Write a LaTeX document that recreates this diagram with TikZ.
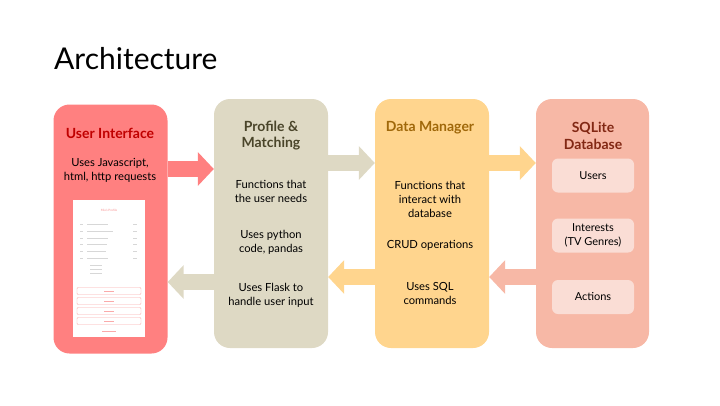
\documentclass[tikz,border=0pt]{standalone}
\usepackage{fontspec}
\setmainfont{Lato}
\usetikzlibrary{arrows.meta}
\definecolor{uicol}{RGB}{255,128,128}
\definecolor{pmcol}{RGB}{222,217,196}
\definecolor{dmcol}{RGB}{255,213,142}
\definecolor{dbcol}{RGB}{247,184,166}
\definecolor{dbin}{RGB}{250,221,213}
\definecolor{uitxt}{RGB}{192,0,0}
\definecolor{pmtxt}{RGB}{74,69,42}
\definecolor{dmtxt}{RGB}{160,104,10}
\definecolor{dbtxt}{RGB}{130,40,20}
\definecolor{shotline}{RGB}{215,215,215}
\definecolor{shotpink}{RGB}{250,170,170}
\tikzset{
  box/.style={rectangle, rounded corners=16pt, minimum width=114pt, minimum height=249pt, inner sep=0pt},
  inbox/.style={rectangle, rounded corners=6pt, fill=dbin, minimum width=82pt, minimum height=34pt, inner sep=0pt, align=center, font=\fontsize{11}{13.5}\selectfont},
  ttl/.style={font=\fontsize{14}{16.5}\bfseries\selectfont, align=center, inner sep=0pt},
  body/.style={font=\fontsize{11.2}{14}\selectfont, align=center, inner sep=0pt},
  arr/.style={line width=16pt, -{Triangle[length=16pt,width=33pt]}},
  row/.style={shotline, line width=0.6pt},
  btn/.style={draw=shotpink, line width=0.4pt, rounded corners=1pt},
}
\begin{document}
\begin{tikzpicture}[x=1pt,y=-1pt]
\useasboundingbox (0,0) rectangle (720,405);
\node[anchor=base west, inner sep=0pt, font=\fontsize{30}{36}\selectfont] (title) at (54,69) {Architecture};

\node[box, fill=uicol] (ui) at (110.5,229) {};
\node[box, fill=pmcol] (pm) at (271,223.5) {};
\node[box, fill=dmcol] (dm) at (432,223.5) {};
\node[box, fill=dbcol, minimum width=113pt] (db) at (592.5,223.5) {};

% arrows
\draw[arr, uicol] (ui.east |- 0,169) -- (pm.west |- 0,169);
\draw[arr, pmcol] (pm.east |- 0,163) -- (dm.west |- 0,163);
\draw[arr, dmcol] (dm.east |- 0,163) -- (db.west |- 0,163);
\draw[arr, dbcol] (db.west |- 0,277) -- (dm.east |- 0,277);
\draw[arr, dmcol] (dm.west |- 0,277) -- (pm.east |- 0,277);
\draw[arr, pmcol] (pm.west |- 0,282) -- (ui.east |- 0,282);

% UI texts
\node[ttl, text=uitxt] (uit) at (110,133) {User Interface};
\node[body] (uib) at (110,170) {Uses Javascript,\\html, http requests};
% screenshot
\node[rectangle, fill=white, minimum width=72pt, minimum height=137pt, inner sep=0pt] (shot) at (109,268.5) {};
\node[inner sep=0pt, text=shotpink, font=\fontsize{3}{3}\bfseries\selectfont] (shott) at (109,210) {Mia's Profile};
\foreach \yy/\ll in {224/38,231/48,238/38,244/36,251/34,258/38}{
  \draw[row] (80,\yy) -- ++(3,0);
  \draw[row] (87,\yy) -- ++(\ll*0.55,0);
  \draw[row] (133,\yy) -- ++(4,0);
}
\foreach \yy in {265,269,273}{ \draw[row] (90,\yy) -- ++(12,0); }
\foreach \yy in {291,301,311,321}{
  \draw[btn] (77,\yy-3.5) rectangle (141,\yy+3.5);
  \draw[shotpink, line width=0.4pt] (104,\yy) -- (114,\yy);
}
\draw[shotpink, line width=0.6pt] (102,331) -- (116,331);

% Profile texts
\node[ttl, text=pmtxt] (pmt) at (271,135.5) {Profile \&\\Matching};
\node[body] (pm1) at (271,191) {Functions that\\the user needs};
\node[body] (pm2) at (271,242) {Uses python\\code, pandas};
\node[body] (pm3) at (271,295) {Uses Flask to\\handle user input};

% Data manager texts
\node[ttl, text=dmtxt] (dmt) at (430,128) {Data Manager};
\node[body] (dm1) at (430,199.5) {Functions that\\interact with\\database};
\node[body] (dm2) at (430,245) {CRUD operations};
\node[body] (dm3) at (430,293.5) {Uses SQL\\commands};

% DB texts
\node[ttl, text=dbtxt] (dbt) at (593,136) {SQLite\\Database};
\node[inbox] (users) at (593,175.5) {Users};
\node[inbox] (inter) at (593,235.5) {Interests\\(TV Genres)};
\node[inbox] (act) at (593,297) {Actions};
\end{tikzpicture}
\end{document}
